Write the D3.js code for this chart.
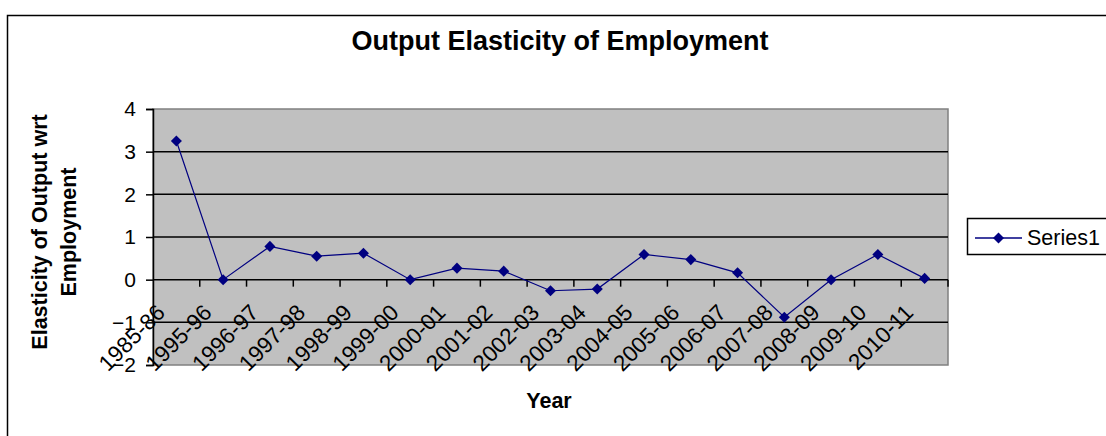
<!DOCTYPE html>
<html>
<head>
<meta charset="utf-8">
<script src="https://cdn.jsdelivr.net/npm/d3@7"></script>
<style>
  html, body { margin: 0; padding: 0; background: #fff; }
  svg { display: block; font-family: Arial, "Liberation Sans", sans-serif; }
</style>
</head>
<body>
<svg id="chart" width="1106" height="436"></svg>
<script>
// Financial years on the category axis
const years = ["1985-86", "1995-96", "1996-97", "1997-98", "1998-99", "1999-00",
  "2000-01", "2001-02", "2002-03", "2003-04", "2004-05", "2005-06", "2006-07",
  "2007-08", "2008-09", "2009-10", "2010-11"];

// Output elasticity of employment, one value per year
const series1 = [3.25, 0, 0.78, 0.55, 0.62, 0, 0.27, 0.2, -0.26, -0.22,
  0.59, 0.47, 0.16, -0.88, 0, 0.59, 0.03];

// Value-axis ticks
const yTicks = [-2, -1, 0, 1, 2, 3, 4];

const seriesName = "Series1";
const navy = "#000080";

const svg = d3.select("#chart");

// Outer chart frame
svg.append("rect")
  .attr("x", 7.5).attr("y", 15.5)
  .attr("width", 1200).attr("height", 500)
  .attr("fill", "#fff").attr("stroke", "#000").attr("stroke-width", 1.5);

const plot = { left: 153, right: 948, top: 109, bottom: 365 };

const x = d3.scaleBand().domain(years).range([plot.left, plot.right]).paddingInner(0).paddingOuter(0);
const y = d3.scaleLinear().domain([d3.min(yTicks), d3.max(yTicks)]).range([plot.bottom, plot.top]);

// Plot area
svg.append("rect")
  .attr("x", plot.left).attr("y", plot.top)
  .attr("width", plot.right - plot.left).attr("height", plot.bottom - plot.top)
  .attr("fill", "#c0c0c0").attr("stroke", "#808080").attr("stroke-width", 1.5);

// Horizontal gridlines (inner ticks only)
svg.append("g")
  .selectAll("line")
  .data(yTicks.filter(t => t > d3.min(yTicks) && t < d3.max(yTicks)))
  .join("line")
  .attr("x1", plot.left).attr("x2", plot.right)
  .attr("y1", d => y(d)).attr("y2", d => y(d))
  .attr("stroke", "#000").attr("stroke-width", 1.5);

// Value axis
const yAxis = svg.append("g")
  .attr("transform", `translate(${plot.left},0)`)
  .call(d3.axisLeft(y).tickValues(yTicks).tickSize(7).tickPadding(10).tickFormat(d3.format("d")));
yAxis.select(".domain").attr("stroke", "#000").attr("stroke-width", 1.5);
yAxis.selectAll(".tick line").attr("stroke", "#000").attr("stroke-width", 1.5);
yAxis.selectAll(".tick text")
  .attr("font-size", 21).attr("fill", "#000")
  .attr("font-family", "Arial, 'Liberation Sans', sans-serif");

// Category axis crossing at zero, tick marks on category boundaries
const boundaries = years.map(d => x(d)).concat([x(years[years.length - 1]) + x.bandwidth()]).slice(1);
svg.append("g")
  .selectAll("line")
  .data(boundaries)
  .join("line")
  .attr("x1", d => d).attr("x2", d => d)
  .attr("y1", y(0)).attr("y2", y(0) + 7)
  .attr("stroke", "#000").attr("stroke-width", 1.5);

// Rotated category labels
svg.append("g")
  .selectAll("text")
  .data(years)
  .join("text")
  .attr("transform", d => `translate(${x(d) + x.bandwidth() / 2 - 10},314) rotate(-45)`)
  .attr("text-anchor", "end")
  .attr("font-size", 22.5)
  .attr("fill", "#000")
  .text(d => d);

// Series line
const pts = years.map((d, i) => [x(d) + x.bandwidth() / 2, y(series1[i])]);
svg.append("path")
  .attr("d", d3.line()(pts))
  .attr("fill", "none").attr("stroke", navy).attr("stroke-width", 1.2);

// Diamond markers
const diamond = d3.symbol().type(d3.symbolDiamond2).size(78);
svg.append("g")
  .selectAll("path")
  .data(pts)
  .join("path")
  .attr("transform", d => `translate(${d[0]},${d[1]})`)
  .attr("d", diamond)
  .attr("fill", navy);

// Title
svg.append("text")
  .attr("x", 560).attr("y", 50)
  .attr("text-anchor", "middle")
  .attr("font-size", 27).attr("font-weight", "bold")
  .text("Output Elasticity of Employment");

// Category axis title
svg.append("text")
  .attr("x", 549).attr("y", 408)
  .attr("text-anchor", "middle")
  .attr("font-size", 21.5).attr("font-weight", "bold")
  .text("Year");

// Value axis title (two lines)
const yTitle = svg.append("text")
  .attr("transform", "translate(0,232) rotate(-90)")
  .attr("text-anchor", "middle")
  .attr("font-size", 21.5).attr("font-weight", "bold");
yTitle.append("tspan").attr("x", 0).attr("y", 47).text("Elasticity of Output wrt");
yTitle.append("tspan").attr("x", 0).attr("y", 76).text("Employment");

// Legend
const legend = svg.append("g");
legend.append("rect")
  .attr("x", 967.5).attr("y", 218.5).attr("width", 140).attr("height", 36)
  .attr("fill", "#fff").attr("stroke", "#000").attr("stroke-width", 1.5);
legend.append("line")
  .attr("x1", 975).attr("x2", 1022).attr("y1", 238).attr("y2", 238)
  .attr("stroke", navy).attr("stroke-width", 1.3);
legend.append("path")
  .attr("transform", "translate(998.5,238)")
  .attr("d", diamond).attr("fill", navy);
legend.append("text")
  .attr("x", 1027).attr("y", 245)
  .attr("font-size", 21.5)
  .attr("fill", "#000")
  .text(seriesName);
</script>
</body>
</html>
